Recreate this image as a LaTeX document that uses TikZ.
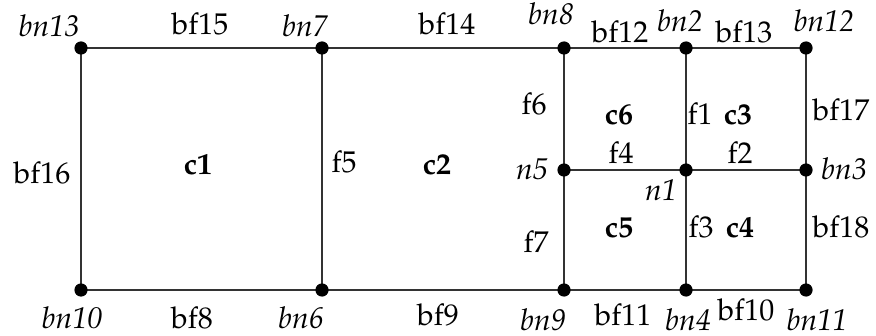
\documentclass[tikz,border=0pt]{standalone}
\usepackage[T1]{fontenc}
\usepackage{mathpazo}
\begin{document}
\begin{tikzpicture}[x=0.5pt,y=-0.5pt,
  dot/.style={circle,fill=black,inner sep=0pt,minimum size=6.6pt},
  edge/.style={line width=0.7pt,draw=black!80},
  lab/.style={anchor=base,inner sep=0pt,font=\fontsize{15}{18}\selectfont},
  nl/.style={anchor=base,inner sep=0pt,font=\fontsize{15}{18}\selectfont\itshape},
  cl/.style={anchor=base,inner sep=0pt,font=\fontsize{15}{18}\selectfont\bfseries}]
\useasboundingbox (0,0) rectangle (876,336);
% vertices
\coordinate (bn13) at (81,48);
\coordinate (bn7) at (322,48);
\coordinate (bn8) at (564,48);
\coordinate (bn2) at (686,48);
\coordinate (bn12) at (806,48);
\coordinate (n5) at (564,170);
\coordinate (n1) at (686,170);
\coordinate (bn3) at (806,170);
\coordinate (bn10) at (81,290);
\coordinate (bn6) at (322,290);
\coordinate (bn9) at (564,290);
\coordinate (bn4) at (686,290);
\coordinate (bn11) at (806,290);
% edges
\draw[edge] (bn13) -- (bn7) -- (bn8) -- (bn2) -- (bn12);
\draw[edge] (bn10) -- (bn6) -- (bn9) -- (bn4) -- (bn11);
\draw[edge] (bn13) -- (bn10);
\draw[edge] (bn7) -- (bn6);
\draw[edge] (bn8) -- (n5) -- (bn9);
\draw[edge] (bn2) -- (n1) -- (bn4);
\draw[edge] (bn12) -- (bn3) -- (bn11);
\draw[edge] (n5) -- (n1) -- (bn3);
% dots
\foreach \p in {bn13,bn7,bn8,bn2,bn12,n5,n1,bn3,bn10,bn6,bn9,bn4,bn11}
  \node[dot] (d\p) at (\p) {};
% node labels
\node[nl] (lbn13) at (49,37) {bn13};
\node[nl] (lbn7) at (305,37) {bn7};
\node[nl] (lbn8) at (551,25) {bn8};
\node[nl] (lbn2) at (680,32) {bn2};
\node[nl] (lbn12) at (824,32) {bn12};
\node[nl] (ln5) at (532,180) {n5};
\node[nl] (ln1) at (661,200) {n1};
\node[nl] (lbn3) at (844,180) {bn3};
\node[nl] (lbn10) at (72,328) {bn10};
\node[nl] (lbn6) at (301,328) {bn6};
\node[nl] (lbn9) at (543,330) {bn9};
\node[nl] (lbn4) at (688,330) {bn4};
\node[nl] (lbn11) at (817,330) {bn11};
% face labels
\node[lab] (lbf15) at (200,35) {bf15};
\node[lab] (lbf14) at (447,35) {bf14};
\node[lab] (lbf12) at (620,43) {bf12};
\node[lab] (lbf13) at (744,43) {bf13};
\node[lab] (lbf16) at (42,184) {bf16};
\node[lab] (lf5) at (344,172) {f5};
\node[lab] (lf6) at (534,115) {f6};
\node[lab] (lf1) at (700,125) {f1};
\node[lab] (lbf17) at (841,121) {bf17};
\node[lab] (lf4) at (621,163) {f4};
\node[lab] (lf2) at (740,163) {f2};
\node[lab] (lf7) at (536,252) {f7};
\node[lab] (lf3) at (701,237) {f3};
\node[lab] (lbf18) at (841,237) {bf18};
\node[lab] (lbf8) at (192,328) {bf8};
\node[lab] (lbf9) at (438,325) {bf9};
\node[lab] (lbf11) at (623,325) {bf11};
\node[lab] (lbf10) at (746,320) {bf10};
% cell labels
\node[cl] (lc1) at (198,175) {c1};
\node[cl] (lc2) at (437,175) {c2};
\node[cl] (lc6) at (619,125) {c6};
\node[cl] (lc3) at (738,125) {c3};
\node[cl] (lc5) at (619,237) {c5};
\node[cl] (lc4) at (740,237) {c4};
\end{tikzpicture}
\end{document}
